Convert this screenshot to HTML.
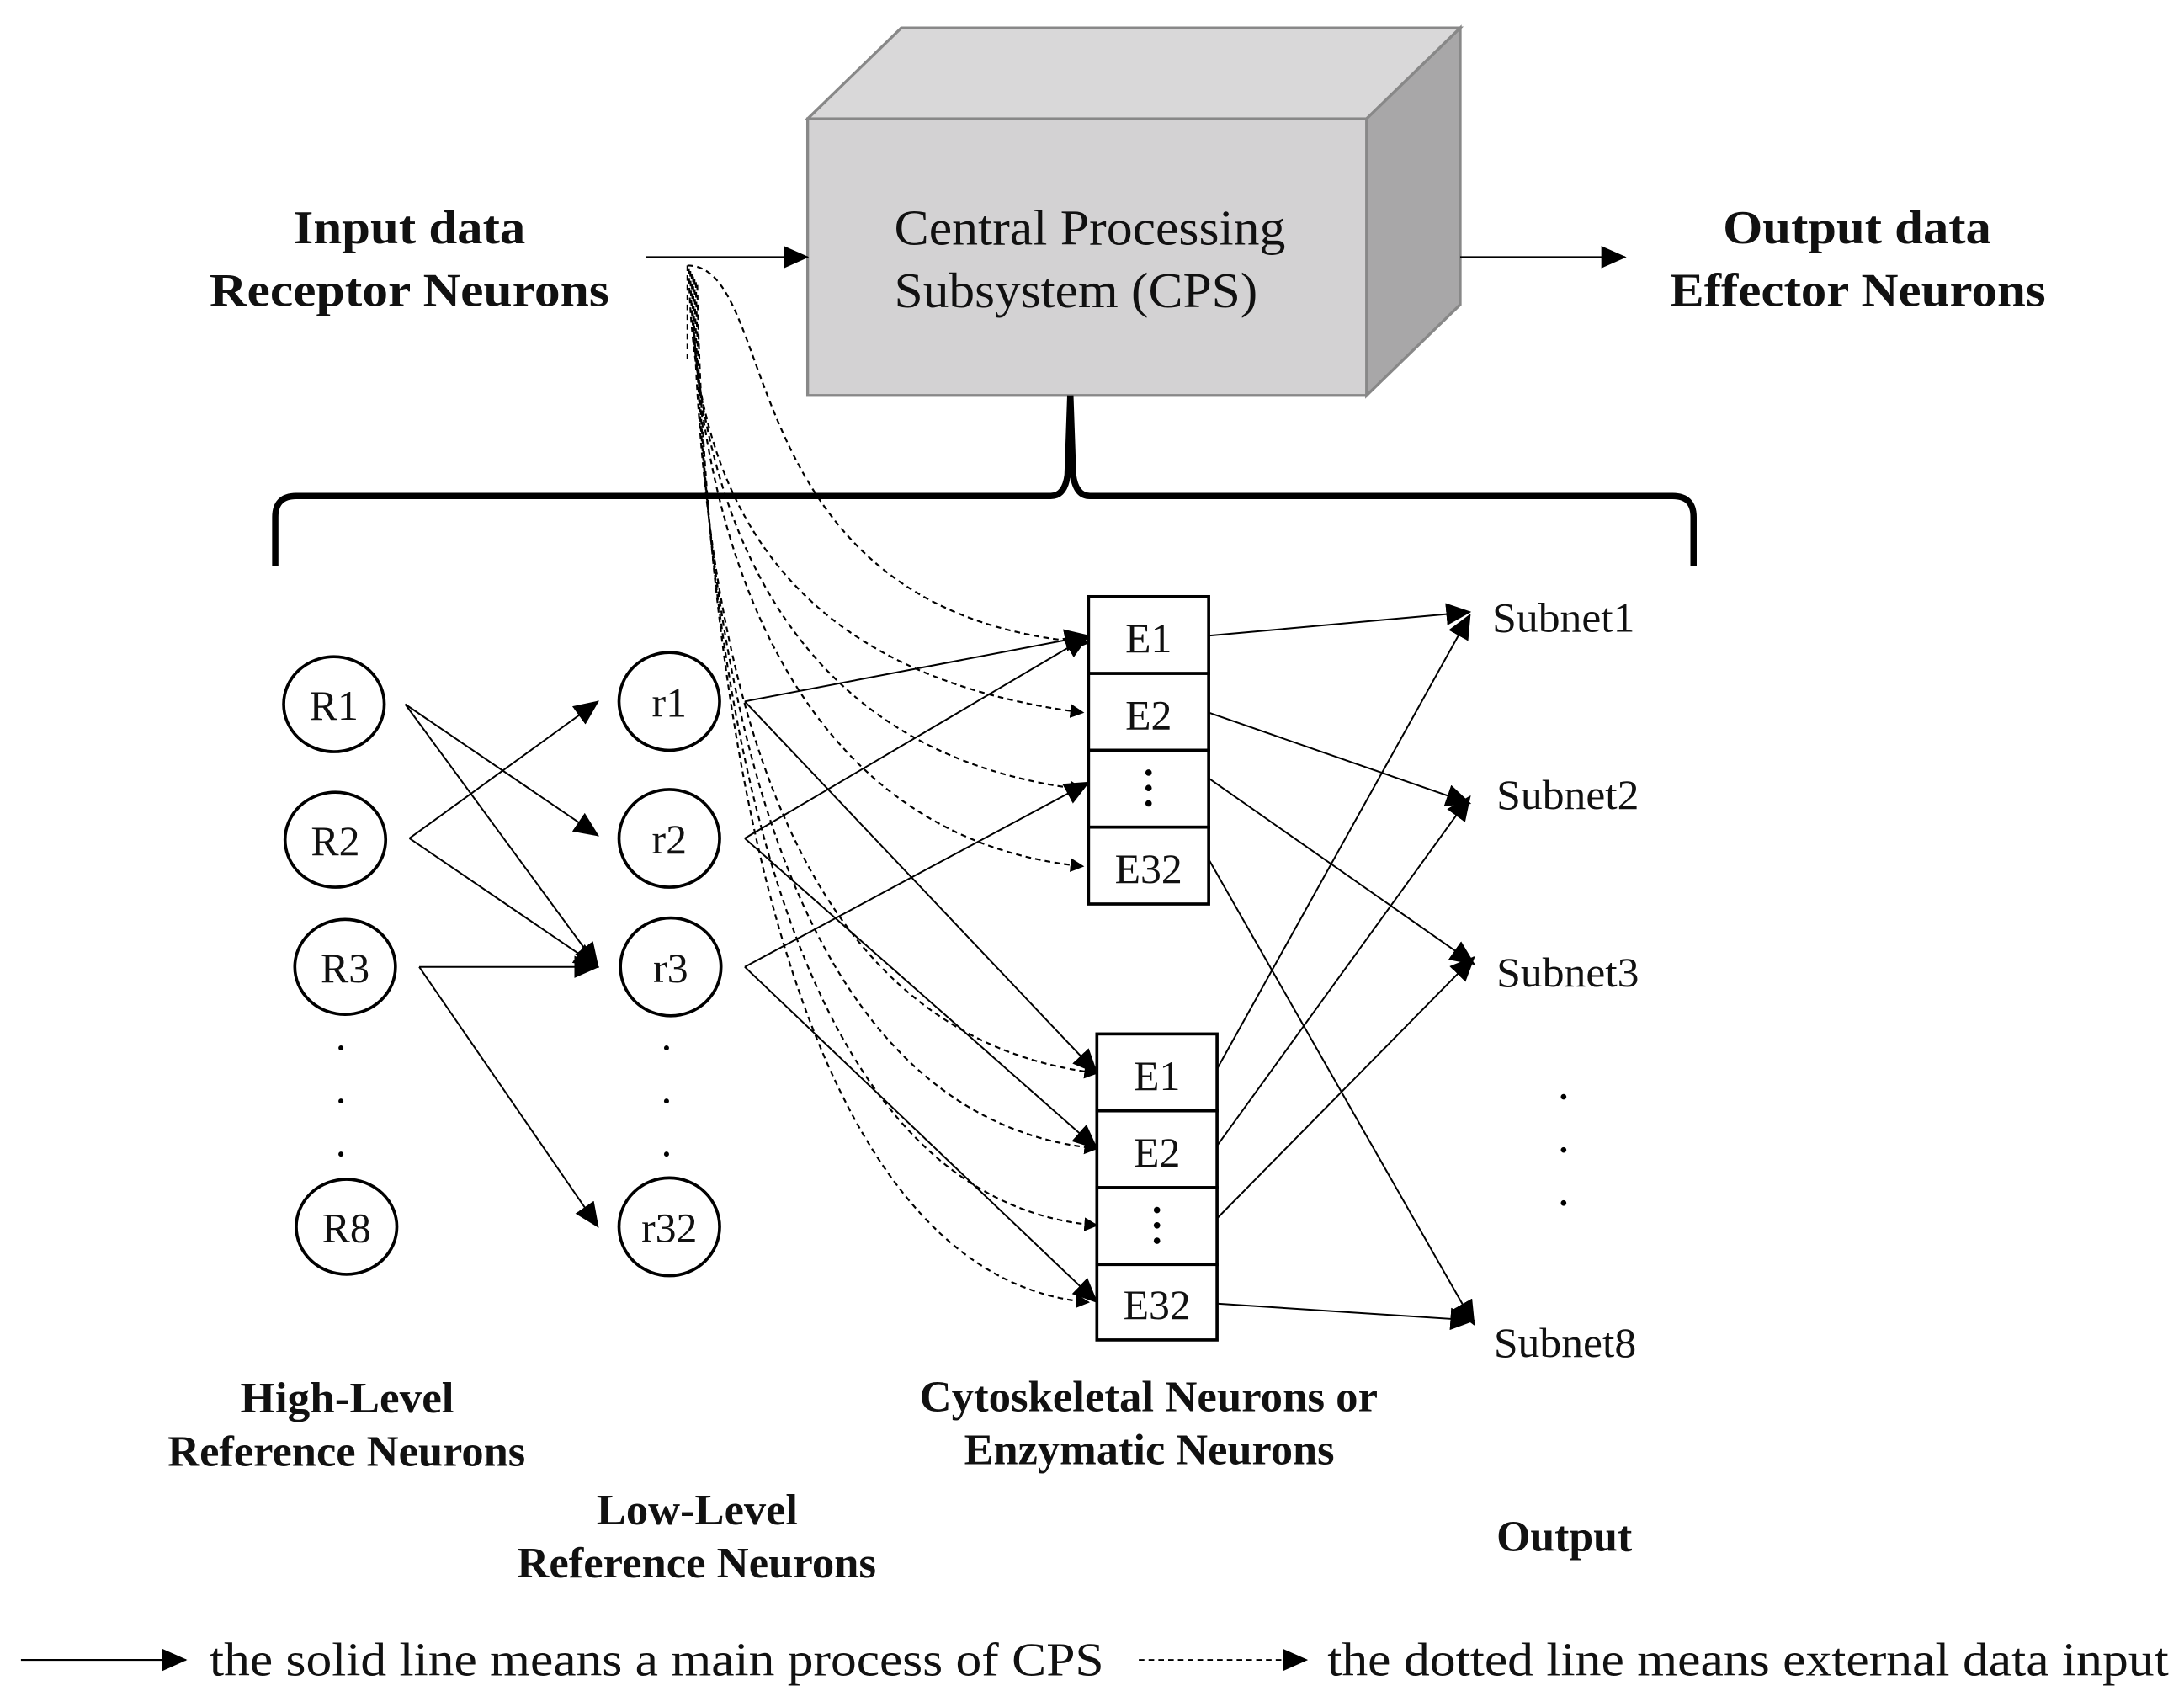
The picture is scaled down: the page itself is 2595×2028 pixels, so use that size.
<!DOCTYPE html>
<html><head><meta charset="utf-8"><style>
html,body{margin:0;padding:0;background:#fff;}
svg{display:block;}
text{font-family:"Liberation Serif",serif;fill:#111;}
.b{font-weight:bold;font-size:31px;}
.n{font-size:30px;}
</style></head><body>
<svg width="2595" height="2028" viewBox="0 0 1563 1221.7" preserveAspectRatio="none" xmlns="http://www.w3.org/2000/svg">
<defs>
<marker id="a" markerWidth="10" markerHeight="10" refX="9" refY="5" orient="auto" markerUnits="userSpaceOnUse"><path d="M0,0 L10,5 L0,10 z" fill="#000"/></marker>
<marker id="A" markerWidth="18" markerHeight="16" refX="17" refY="8" orient="auto" markerUnits="userSpaceOnUse"><path d="M0,0 L18,8 L0,16 z" fill="#000"/></marker>
</defs>
<polygon points="578,85 645,20 1045,20 978,85" fill="#d9d8d9" stroke="#888" stroke-width="2"/>
<polygon points="978,85 1045,20 1045,218 978,283" fill="#a8a7a8" stroke="#888" stroke-width="2"/>
<rect x="578" y="85" width="400" height="198" fill="#d3d2d3" stroke="#888" stroke-width="2"/>
<text x="640" y="175" font-size="36" textLength="280" lengthAdjust="spacingAndGlyphs">Central Processing</text>
<text x="640" y="220" font-size="36" textLength="260" lengthAdjust="spacingAndGlyphs">Subsystem (CPS)</text>
<text x="210" y="174" class="b" style="font-size:34px" textLength="166" lengthAdjust="spacingAndGlyphs">Input data</text>
<text x="150" y="219" class="b" style="font-size:34px" textLength="286" lengthAdjust="spacingAndGlyphs">Receptor Neurons</text>
<text x="1233" y="174" class="b" style="font-size:34px" textLength="192" lengthAdjust="spacingAndGlyphs">Output data</text>
<text x="1195" y="219" class="b" style="font-size:34px" textLength="269" lengthAdjust="spacingAndGlyphs">Effector Neurons</text>
<line x1="462" y1="184" x2="578" y2="184" stroke="#000" stroke-width="1.3" marker-end="url(#A)"/>
<line x1="1045" y1="184" x2="1163" y2="184" stroke="#000" stroke-width="1.3" marker-end="url(#A)"/>
<path d="M197,405 L197,370 Q197,355 212,355 L752,355 Q762,355 764,340 L766,283 M766,283 L768,340 Q770,355 780,355 L1197,355 Q1212,355 1212,370 L1212,405" fill="none" stroke="#000" stroke-width="4.5"/>
<g fill="none" stroke="#000" stroke-width="1.3" stroke-dasharray="4,3">
<path d="M492,190 C560,190 520,440 779,460" marker-end="url(#a)"/>
<path d="M493,192 C495,330 540,480 775,510" marker-end="url(#a)"/>
<path d="M494,194 C497,360 560,540 775,565" marker-end="url(#a)"/>
<path d="M495,196 C498,390 570,600 775,620" marker-end="url(#a)"/>
<path d="M496,198 C500,450 550,740 785,768" marker-end="url(#a)"/>
<path d="M497,200 C502,480 560,800 785,822" marker-end="url(#a)"/>
<path d="M498,202 C504,520 570,860 785,877" marker-end="url(#a)"/>
<path d="M499,204 C506,560 580,915 779,932" marker-end="url(#a)"/>
<path d="M492,190 L492,260"/>
</g>
<g fill="#fff" stroke="#000" stroke-width="2.2">
<ellipse cx="239" cy="504" rx="36" ry="34"/>
<ellipse cx="240" cy="601" rx="36" ry="34"/>
<ellipse cx="247" cy="692" rx="36" ry="34"/>
<ellipse cx="248" cy="878" rx="36" ry="34"/>
<ellipse cx="479" cy="502" rx="36" ry="35"/>
<ellipse cx="479" cy="600" rx="36" ry="35"/>
<ellipse cx="480" cy="692" rx="36" ry="35"/>
<ellipse cx="479" cy="878" rx="36" ry="35"/>
</g>
<g class="n" text-anchor="middle">
<text x="239" y="515">R1</text><text x="240" y="612">R2</text><text x="247" y="703">R3</text><text x="248" y="889">R8</text>
<text x="479" y="513">r1</text><text x="479" y="611">r2</text><text x="480" y="703">r3</text><text x="479" y="889">r32</text>
</g>
<g fill="#000">
<circle cx="244" cy="750" r="1.8"/><circle cx="244" cy="788" r="1.8"/><circle cx="244" cy="826" r="1.8"/>
<circle cx="477" cy="750" r="1.8"/><circle cx="477" cy="788" r="1.8"/><circle cx="477" cy="826" r="1.8"/>
<circle cx="1119" cy="785" r="2"/><circle cx="1119" cy="823" r="2"/><circle cx="1119" cy="861" r="2"/>
</g>
<g fill="#fff" stroke="#000" stroke-width="2.2">
<rect x="779" y="427" width="86" height="55"/><rect x="779" y="482" width="86" height="55"/><rect x="779" y="537" width="86" height="55"/><rect x="779" y="592" width="86" height="55"/>
<rect x="785" y="740" width="86" height="55"/><rect x="785" y="795" width="86" height="55"/><rect x="785" y="850" width="86" height="55"/><rect x="785" y="905" width="86" height="54"/>
</g>
<g class="n" text-anchor="middle">
<text x="822" y="467">E1</text><text x="822" y="522">E2</text><text x="822" y="632">E32</text>
<text x="828" y="780">E1</text><text x="828" y="835">E2</text><text x="828" y="944">E32</text>
</g>
<g fill="#000"><circle cx="822" cy="553" r="2.3"/><circle cx="822" cy="564" r="2.3"/><circle cx="822" cy="575" r="2.3"/>
<circle cx="828" cy="866" r="2.3"/><circle cx="828" cy="877" r="2.3"/><circle cx="828" cy="888" r="2.3"/></g>
<g stroke="#000" stroke-width="1.2" fill="none">
<line x1="290" y1="504" x2="428" y2="598" marker-end="url(#A)"/>
<line x1="290" y1="504" x2="428" y2="692" marker-end="url(#A)"/>
<line x1="293" y1="600" x2="428" y2="502" marker-end="url(#A)"/>
<line x1="293" y1="600" x2="428" y2="692" marker-end="url(#A)"/>
<line x1="300" y1="692" x2="428" y2="692" marker-end="url(#A)"/>
<line x1="300" y1="692" x2="428" y2="878" marker-end="url(#A)"/>
<line x1="533" y1="502" x2="779" y2="455" marker-end="url(#A)"/>
<line x1="533" y1="502" x2="785" y2="768" marker-end="url(#A)"/>
<line x1="533" y1="600" x2="779" y2="455" marker-end="url(#A)"/>
<line x1="533" y1="600" x2="785" y2="822" marker-end="url(#A)"/>
<line x1="533" y1="692" x2="779" y2="560" marker-end="url(#A)"/>
<line x1="533" y1="692" x2="785" y2="932" marker-end="url(#A)"/>
<line x1="865" y1="455" x2="1052" y2="438" marker-end="url(#A)"/>
<line x1="865" y1="510" x2="1052" y2="575" marker-end="url(#A)"/>
<line x1="865" y1="557" x2="1055" y2="690" marker-end="url(#A)"/>
<line x1="865" y1="615" x2="1055" y2="948" marker-end="url(#A)"/>
<line x1="871" y1="765" x2="1052" y2="440" marker-end="url(#A)"/>
<line x1="871" y1="820" x2="1052" y2="570" marker-end="url(#A)"/>
<line x1="871" y1="872" x2="1055" y2="685" marker-end="url(#A)"/>
<line x1="871" y1="933" x2="1055" y2="945" marker-end="url(#A)"/>
</g>
<g class="n">
<text x="1068" y="452" textLength="102" lengthAdjust="spacingAndGlyphs">Subnet1</text><text x="1071" y="579" textLength="102" lengthAdjust="spacingAndGlyphs">Subnet2</text><text x="1071" y="706" textLength="102" lengthAdjust="spacingAndGlyphs">Subnet3</text><text x="1069" y="971" textLength="102" lengthAdjust="spacingAndGlyphs">Subnet8</text>
</g>
<g class="b">
<text x="172" y="1011" textLength="153" lengthAdjust="spacingAndGlyphs">High-Level</text><text x="120" y="1049" textLength="256" lengthAdjust="spacingAndGlyphs">Reference Neurons</text>
<text x="427" y="1091" textLength="144" lengthAdjust="spacingAndGlyphs">Low-Level</text><text x="370" y="1129" textLength="257" lengthAdjust="spacingAndGlyphs">Reference Neurons</text>
<text x="658" y="1010" textLength="328" lengthAdjust="spacingAndGlyphs">Cytoskeletal Neurons or</text><text x="690" y="1048" textLength="265" lengthAdjust="spacingAndGlyphs">Enzymatic Neurons</text>
<text x="1071" y="1110" textLength="97" lengthAdjust="spacingAndGlyphs">Output</text>
</g>
<line x1="15" y1="1188" x2="133" y2="1188" stroke="#000" stroke-width="1.3" marker-end="url(#A)"/>
<text x="150" y="1199" font-size="34" textLength="640" lengthAdjust="spacingAndGlyphs">the solid line means a main process of CPS</text>
<line x1="815" y1="1188" x2="935" y2="1188" stroke="#000" stroke-width="1.2" stroke-dasharray="4,3" marker-end="url(#A)"/>
<text x="950" y="1199" font-size="34" textLength="602" lengthAdjust="spacingAndGlyphs">the dotted line means external data input</text>
</svg>
</body></html>
